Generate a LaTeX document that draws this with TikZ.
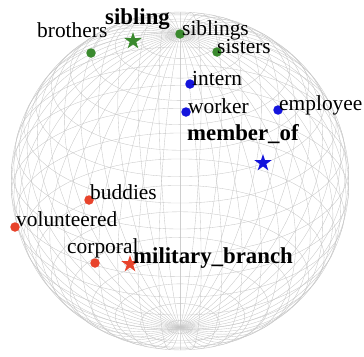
\documentclass[tikz,border=0pt]{standalone}
\usepackage{fontspec}
\setmainfont{Liberation Serif}
\usetikzlibrary{shapes.geometric}
\begin{document}
\begin{tikzpicture}[x=1pt,y=-1pt,
  wire/.style={draw=black!22, line width=0.35pt},
  dotmark/.style={circle, inner sep=0pt, minimum size=9.5pt},
  starmark/.style={star, star points=5, star point ratio=2.6, inner sep=0pt, minimum size=18pt},
  lbl/.style={anchor=base west, inner sep=0pt, font=\fontsize{21.4}{24}\selectfont},
  blbl/.style={anchor=base west, inner sep=0pt, font=\fontsize{22.8}{26}\selectfont\bfseries}]
\definecolor{cgreen}{HTML}{3A8A2E}
\definecolor{cblue}{HTML}{1414DC}
\definecolor{cred}{HTML}{E8432B}
\useasboundingbox (0,0) rectangle (364,356);
\def\R{169}
\def\cx{180}
\def\cy{181}
% latitude circles
\foreach \p in {-85.5,-76.5,...,85.5}{
  \draw[wire] (\cx,{\cy-\R*sin(\p)*cos(30)}) ellipse [x radius={\R*cos(\p)}, y radius={\R*cos(\p)*sin(30)}];
}
% meridians
\foreach \l in {0,7.2,...,353}{
  \draw[wire] plot[smooth, domain=-90:90, samples=37, variable=\p]
    ({\cx+\R*cos(\p)*sin(\l)},{\cy-\R*(sin(\p)*cos(30)-cos(\p)*cos(\l)*sin(30))});
}
% green group
\node[dotmark, fill=cgreen] (brothersdot) at (91,53) {};
\node[starmark, fill=cgreen] (siblingstar) at (133,41) {};
\node[dotmark, fill=cgreen] (siblingsdot) at (180,34) {};
\node[dotmark, fill=cgreen] (sistersdot) at (217,52) {};
\node[lbl] (brotherslbl) at (37,37) {brothers};
\node[blbl] (siblinglbl) at (105,24) {sibling};
\node[lbl] (siblingslbl) at (182,35) {siblings};
\node[lbl] (sisterslbl) at (217,53) {sisters};
% blue group
\node[dotmark, fill=cblue] (interndot) at (190,84) {};
\node[dotmark, fill=cblue] (workerdot) at (186,112) {};
\node[dotmark, fill=cblue] (employeedot) at (278,110) {};
\node[starmark, fill=cblue] (memberstar) at (263,163) {};
\node[lbl] (internlbl) at (192,85) {intern};
\node[lbl] (workerlbl) at (188,113) {worker};
\node[lbl] (employeelbl) at (279,110) {employee};
\node[blbl] (memberlbl) at (187,140) {member\_of};
% red group
\node[dotmark, fill=cred] (buddiesdot) at (89,200) {};
\node[dotmark, fill=cred] (volunteereddot) at (15,227) {};
\node[dotmark, fill=cred] (corporaldot) at (95,263) {};
\node[starmark, fill=cred] (militarystar) at (130,264) {};
\node[lbl] (buddieslbl) at (90,199) {buddies};
\node[lbl] (volunteeredlbl) at (16,226) {volunteered};
\node[lbl] (corporallbl) at (67,253) {corporal};
\node[blbl] (militarylbl) at (133,263) {military\_branch};
\end{tikzpicture}
\end{document}
